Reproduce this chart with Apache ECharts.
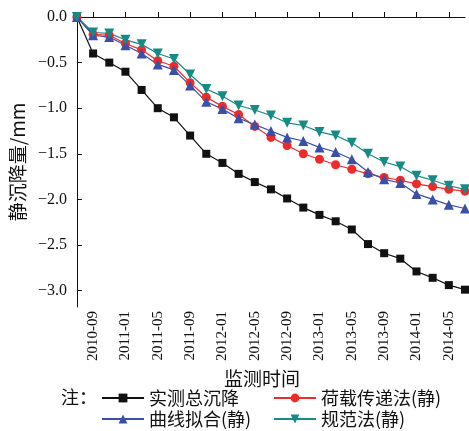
<!DOCTYPE html>
<html>
<head>
<meta charset="utf-8">
<script src="https://cdn.jsdelivr.net/npm/echarts@6/dist/echarts.min.js"></script>
<style>
  html, body { margin: 0; padding: 0; background: #fff; }
  #chart { width: 469px; height: 431px; }
</style>
</head>
<body>
<div id="chart"></div>
<script>
// monitoring dates, every 2 months
var months = [
  '2010-07', '2010-09', '2010-11', '2011-01', '2011-03', '2011-05', '2011-07',
  '2011-09', '2011-11', '2012-01', '2012-03', '2012-05', '2012-07', '2012-09',
  '2012-11', '2013-01', '2013-03', '2013-05', '2013-07', '2013-09', '2013-11',
  '2014-01', '2014-03', '2014-05', '2014-07'
];

var measured = [0, -0.40, -0.50, -0.60, -0.80, -1.00, -1.10, -1.30, -1.50, -1.60, -1.72, -1.81,
  -1.89, -1.99, -2.09, -2.17, -2.24, -2.33, -2.49, -2.59, -2.65, -2.79, -2.86, -2.94, -2.99];
var loadTransfer = [0, -0.19, -0.20, -0.29, -0.36, -0.48, -0.54, -0.72, -0.88, -0.98, -1.07, -1.20,
  -1.32, -1.41, -1.50, -1.56, -1.62, -1.67, -1.72, -1.76, -1.79, -1.83, -1.86, -1.89, -1.91];
var curveFit = [0, -0.20, -0.22, -0.31, -0.40, -0.52, -0.58, -0.75, -0.93, -1.01, -1.11, -1.18,
  -1.25, -1.32, -1.36, -1.43, -1.48, -1.56, -1.70, -1.78, -1.82, -1.94, -2.00, -2.06, -2.10];
var codeMethod = [0, -0.17, -0.18, -0.25, -0.30, -0.40, -0.46, -0.63, -0.79, -0.87, -0.97, -1.02,
  -1.08, -1.16, -1.19, -1.26, -1.30, -1.38, -1.50, -1.59, -1.64, -1.74, -1.79, -1.85, -1.89];

var yTicks = [0, -0.5, -1.0, -1.5, -2.0, -2.5, -3.0];

var serif = '"Liberation Serif", serif';
var cjk = '"Noto Sans CJK SC", sans-serif';

var chartDom = document.getElementById('chart');
var myChart = echarts.init(chartDom);

function mk(name, data, color, symbol, size) {
  return {
    name: name,
    type: 'line',
    data: data,
    symbol: symbol,
    symbolSize: size,
    lineStyle: { color: color, width: 1.2 },
    itemStyle: { color: color },
    animation: false
  };
}

function leg(name, left, top) {
  return {
    data: [name],
    left: left,
    top: top,
    itemWidth: 42,
    itemHeight: 11,
    textStyle: { fontFamily: cjk, fontSize: 18, color: '#111' }
  };
}

var oddOnly = function (idx) { return idx % 2 === 1; };

var option = {
  backgroundColor: '#fff',
  title: {
    text: '注：',
    left: 56,
    top: 383,
    textStyle: { fontFamily: cjk, fontSize: 18, fontWeight: 'normal', color: '#111' }
  },
  legend: [
    leg('实测总沉降', 96, 384),
    leg('曲线拟合(静)', 96, 405),
    leg('荷载传递法(静)', 268, 384),
    leg('规范法(静)', 268, 405)
  ],
  grid: {
    left: 75,
    right: 4,
    top: 17,
    bottom: 124
  },
  xAxis: {
    type: 'category',
    boundaryGap: false,
    data: months,
    name: '监测时间',
    nameLocation: 'middle',
    nameGap: 53,
    nameTextStyle: { fontFamily: cjk, fontSize: 19, color: '#111', padding: [0, 18, 0, 0] },
    axisLine: { lineStyle: { color: '#111', width: 1 } },
    axisTick: { inside: true, length: 5, interval: oddOnly, lineStyle: { color: '#111' } },
    axisLabel: {
      interval: oddOnly,
      rotate: 90,
      margin: 4,
      fontFamily: serif,
      fontSize: 15,
      color: '#111'
    },
    splitLine: { show: false }
  },
  yAxis: {
    type: 'value',
    min: -3.18,
    max: 0,
    name: '静沉降量/mm',
    nameLocation: 'middle',
    nameGap: 44,
    nameTextStyle: { fontFamily: cjk, fontSize: 19, color: '#111' },
    axisLine: { show: true, lineStyle: { color: '#111', width: 1 } },
    axisTick: { show: true, inside: true, length: 5, customValues: yTicks, lineStyle: { color: '#111' } },
    axisLabel: {
      customValues: yTicks,
      margin: 10,
      fontFamily: serif,
      fontSize: 16,
      color: '#111',
      formatter: function (v) { return v.toFixed(1).replace('-', '\u2212'); }
    },
    splitLine: { show: false }
  },
  series: [
    mk('实测总沉降', measured, '#111111', 'rect', 8),
    mk('荷载传递法(静)', loadTransfer, '#ee2a2a', 'circle', 9),
    mk('曲线拟合(静)', curveFit, '#3a4fa8', 'triangle', 10),
    mk('规范法(静)', codeMethod, '#168a84', 'path://M0,0 L10,0 L5,9 Z', 10)
  ]
};

myChart.setOption(option);
</script>
</body>
</html>
